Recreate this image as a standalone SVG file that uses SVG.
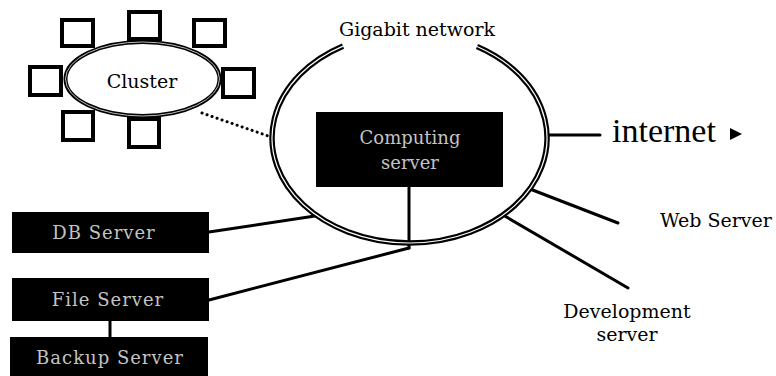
<svg xmlns="http://www.w3.org/2000/svg" width="776" height="376" viewBox="0 0 776 376">
  <style>
    .lbl { font-family: "DejaVu Serif", "Liberation Serif", serif; font-size: 19px; fill: #000; }
    .box { fill: #000; }
    .boxtxt { font-family: "DejaVu Serif", "Liberation Serif", serif; font-size: 18px; fill: #c4c4c4; text-anchor: middle; letter-spacing: 1px; }
    .tight { letter-spacing: 0; }
    .node { fill: #fff; stroke: #000; stroke-width: 4; }
    .wire { stroke: #000; stroke-width: 3; fill: none; stroke-linecap: round; }
    .ring { fill: none; stroke: #000; stroke-width: 5.5; }
    .ringin { fill: none; stroke: #fff; stroke-width: 1.2; }
  </style>
  <rect width="776" height="376" fill="#fff"/>

  <!-- connectors -->
  <g id="connectors">
    <line class="wire" x1="202" y1="113" x2="271" y2="137" stroke-dasharray="0.1 5.2" stroke-width="3.2"/>
    <line class="wire" x1="209" y1="232" x2="315" y2="216"/>
    <line class="wire" x1="409" y1="187" x2="409" y2="248"/>
    <line class="wire" x1="209" y1="300" x2="409" y2="248"/>
    <line class="wire" x1="110" y1="321" x2="110" y2="337"/>
    <line class="wire" x1="547" y1="135" x2="600" y2="135"/>
    <line class="wire" x1="530" y1="189" x2="618" y2="223"/>
    <line class="wire" x1="503" y1="215" x2="628" y2="288"/>
  </g>

  <!-- cluster with its member nodes -->
  <g id="cluster">
    <rect class="node" x="62" y="20" width="31" height="26"/>
    <rect class="node" x="129" y="12" width="31" height="27"/>
    <rect class="node" x="194" y="20" width="31" height="26"/>
    <rect class="node" x="30" y="67" width="31" height="28"/>
    <rect class="node" x="223" y="69" width="31" height="28"/>
    <rect class="node" x="63" y="112" width="30" height="28"/>
    <rect class="node" x="129" y="119" width="30" height="28"/>
    <ellipse cx="142.5" cy="79" rx="77" ry="37" fill="#fff" stroke="#000" stroke-width="4"/>
    <ellipse cx="142.5" cy="79" rx="77" ry="37" fill="none" stroke="#bbb" stroke-width="1"/>
    <text class="lbl" x="142" y="88" text-anchor="middle">Cluster</text>
  </g>

  <!-- gigabit backbone ring -->
  <g id="gigabit-network">
    <path class="ring" d="M 477 46.5 A 137.5 105 0 1 1 343 46.1"/>
    <path class="ringin" d="M 477 46.5 A 137.5 105 0 1 1 343 46.1"/>
    <text class="lbl" x="417" y="36" text-anchor="middle">Gigabit network</text>
  </g>

  <g id="computing-server">
    <rect class="box" x="316" y="112" width="187" height="75"/>
    <text class="boxtxt tight" x="410" y="144">Computing</text>
    <text class="boxtxt tight" x="410" y="169">server</text>
  </g>

  <g id="db-server">
    <rect class="box" x="12" y="212" width="197" height="41"/>
    <text class="boxtxt" x="104" y="239">DB Server</text>
  </g>

  <g id="file-server">
    <rect class="box" x="12" y="278" width="197" height="43"/>
    <text class="boxtxt" x="108" y="306">File Server</text>
  </g>

  <g id="backup-server">
    <rect class="box" x="10" y="337" width="198" height="40"/>
    <text class="boxtxt" x="110" y="364">Backup Server</text>
  </g>

  <g id="internet">
    <text x="612" y="142" font-family="Liberation Serif, serif" font-size="34" fill="#000">internet</text>
    <polygon points="730,128 742,134 730,140" fill="#000"/>
  </g>

  <g id="web-server">
    <text class="lbl" x="660" y="227">Web Server</text>
  </g>

  <g id="development-server">
    <text class="lbl" x="627" y="318" text-anchor="middle">Development</text>
    <text class="lbl" x="627" y="341" text-anchor="middle">server</text>
  </g>
</svg>
